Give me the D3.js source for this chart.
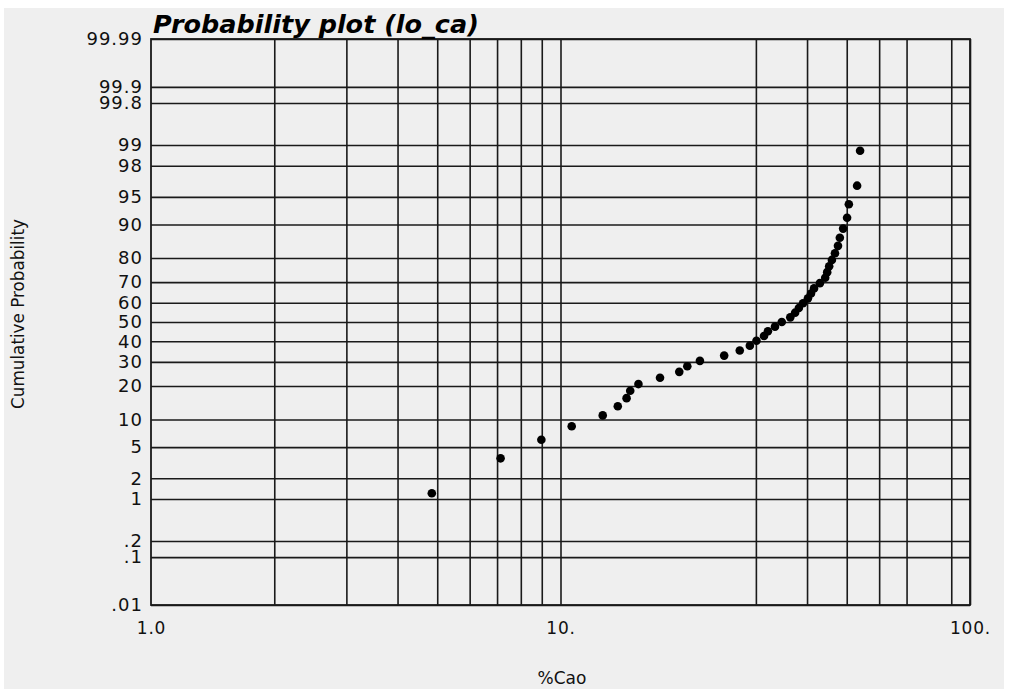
<!DOCTYPE html>
<html>
<head>
<meta charset="utf-8">
<script src="https://cdn.jsdelivr.net/npm/d3@7"></script>
<style>
  html, body { margin: 0; padding: 0; background: #ffffff; }
  text { font-family: "DejaVu Sans", "Liberation Sans", Arial, sans-serif; }
</style>
</head>
<body>
<div id="chart"></div>
<script>
// %CaO values, sorted
const cao = [4.85, 7.14, 8.98, 10.65, 12.68, 13.8, 14.5, 14.8, 15.5, 17.5,
             19.5, 20.4, 21.9, 25.1, 27.4, 29.0, 30.1, 31.4, 32.1, 33.4,
             34.7, 36.4, 37.4, 38.2, 39.1, 40.2, 40.9, 41.6, 43.0, 44.3,
             44.8, 45.3, 46.0, 46.8, 47.6, 48.1, 49.0, 50.1, 50.6, 53.0, 53.9];
// cumulative probability (%) of each point
const cumProb = [1.22, 3.66, 6.10, 8.54, 10.98, 13.41, 15.85, 18.29, 20.73, 23.17,
                 25.61, 28.05, 30.49, 32.93, 35.37, 37.80, 40.24, 42.68, 45.12, 47.56,
                 50.00, 52.44, 54.88, 57.32, 59.76, 62.20, 64.63, 67.07, 69.51, 71.95,
                 74.39, 76.83, 79.27, 81.71, 84.15, 86.59, 89.02, 91.46, 93.90, 96.34, 98.78];

const probTicks = [0.01, 0.1, 0.2, 1, 2, 5, 10, 20, 30, 40, 50, 60, 70, 80, 90, 95, 98, 99, 99.8, 99.9, 99.99];
const probLabels = [".01", ".1", ".2", "1", "2", "5", "10", "20", "30", "40", "50", "60", "70", "80", "90", "95", "98", "99", "99.8", "99.9", "99.99"];
const xGrid = [2, 3, 4, 5, 6, 7, 8, 9, 10, 30, 40, 50, 60, 70, 90, 100];
const xTicks = [1, 10, 100];
const xLabels = ["1.0", "10.", "100."];

const width = 1020, height = 689;
const mLeft = 151, mRight = 970, mTop = 39, mBottom = 605;

// inverse normal cdf (Acklam)
function probit(p) {
  const a = [-39.69683028665376, 220.9460984245205, -275.9285104469687, 138.3577518672690, -30.66479806614716, 2.506628277459239];
  const b = [-54.47609879822406, 161.5858368580409, -155.6989798598866, 66.80131188771972, -13.28068155288572];
  const c = [-0.007784894002430293, -0.3223964580411365, -2.400758277161838, -2.549732539343734, 4.374664141464968, 2.938163982698783];
  const d = [0.007784695709041462, 0.3224671290700398, 2.445134137142996, 3.754408661907416];
  const pl = 0.02425;
  let q, r;
  if (p < pl) {
    q = Math.sqrt(-2 * Math.log(p));
    return (((((c[0]*q+c[1])*q+c[2])*q+c[3])*q+c[4])*q+c[5]) / ((((d[0]*q+d[1])*q+d[2])*q+d[3])*q+1);
  } else if (p <= 1 - pl) {
    q = p - 0.5; r = q * q;
    return (((((a[0]*r+a[1])*r+a[2])*r+a[3])*r+a[4])*r+a[5])*q / (((((b[0]*r+b[1])*r+b[2])*r+b[3])*r+b[4])*r+1);
  } else {
    q = Math.sqrt(-2 * Math.log(1 - p));
    return -(((((c[0]*q+c[1])*q+c[2])*q+c[3])*q+c[4])*q+c[5]) / ((((d[0]*q+d[1])*q+d[2])*q+d[3])*q+1);
  }
}

// shrink/grow a text's font so it spans the wanted width
function fitText(sel, wanted, size) {
  sel.style("font-size", size + "px");
  const w = sel.node().getComputedTextLength();
  sel.style("font-size", (size * wanted / w).toFixed(2) + "px");
}

const x = d3.scaleLog().domain([1, 100]).range([mLeft, mRight]);
const zScale = d3.scaleLinear().domain([probit(0.0001), probit(0.9999)]).range([mBottom, mTop]);
const y = pct => zScale(probit(pct / 100));

const svg = d3.select("#chart").append("svg")
  .attr("width", width).attr("height", height);

svg.append("rect").attr("x", 4).attr("y", 8).attr("width", 1000).attr("height", height - 8)
  .attr("fill", "#efefef");

// horizontal grid + labels
const yAxis = d3.axisLeft(d3.scaleIdentity())
  .tickValues(probTicks.map(y))
  .tickSizeInner(-(mRight - mLeft)).tickSizeOuter(0).tickPadding(8)
  .tickFormat((d, i) => probLabels[i]);
const gy = svg.append("g").attr("transform", `translate(${mLeft},0)`).call(yAxis);
gy.select(".domain").remove();
gy.selectAll("line").attr("stroke", "#1a1a1a").attr("stroke-width", 1.6);
gy.selectAll("text").attr("fill", "#111")
  .style("font-family", "'DejaVu Sans', sans-serif")
  .style("font-size", "18px").style("letter-spacing", "1px");

// vertical grid
const xGridAxis = d3.axisBottom(x).tickValues(xGrid)
  .tickSizeInner(-(mBottom - mTop)).tickSizeOuter(0).tickFormat("");
const gx = svg.append("g").attr("transform", `translate(0,${mBottom})`).call(xGridAxis);
gx.select(".domain").remove();
gx.selectAll("line").attr("stroke", "#1a1a1a").attr("stroke-width", 1.6);

// x labels
const xAxis = d3.axisBottom(x).tickValues(xTicks).tickSize(0).tickPadding(17)
  .tickFormat((d, i) => xLabels[i]);
const gxl = svg.append("g").attr("transform", `translate(0,${mBottom})`).call(xAxis);
gxl.select(".domain").remove();
gxl.selectAll("text").attr("fill", "#111")
  .style("font-family", "'DejaVu Sans', sans-serif")
  .style("font-size", "17px").style("letter-spacing", "0.8px");

// frame
svg.append("rect").attr("x", mLeft).attr("y", mTop)
  .attr("width", mRight - mLeft).attr("height", mBottom - mTop)
  .attr("fill", "none").attr("stroke", "#1a1a1a").attr("stroke-width", 1.8);

// points
svg.append("g").selectAll("circle")
  .data(cao)
  .join("circle")
  .attr("cx", d => x(d))
  .attr("cy", (d, i) => y(cumProb[i]))
  .attr("r", 4.3)
  .attr("fill", "#000");

// title
const title = svg.append("text")
  .attr("x", 153).attr("y", 33)
  .style("font-weight", "bold").style("font-style", "italic")
  .attr("fill", "#000")
  .text("Probability plot (lo_ca)");
fitText(title, 326, 26);

// axis titles
const yTitle = svg.append("text")
  .attr("transform", "translate(24,314) rotate(-90)")
  .attr("text-anchor", "middle")
  .attr("fill", "#111")
  .text("Cumulative Probability");
fitText(yTitle, 190, 17);

svg.append("text")
  .attr("x", 562).attr("y", 684)
  .attr("text-anchor", "middle")
  .style("font-size", "17px")
  .attr("fill", "#111")
  .text("%Cao");
</script>
</body>
</html>
